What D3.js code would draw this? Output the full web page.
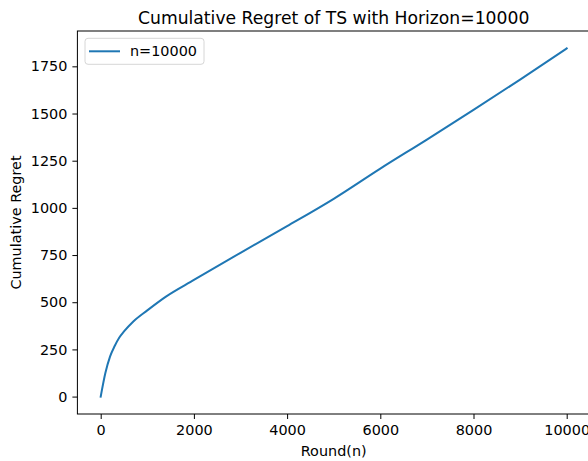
<!DOCTYPE html>
<html>
<head>
<meta charset="utf-8">
<script src="https://cdn.jsdelivr.net/npm/d3@7"></script>
<style>
  body { margin: 0; background: #fff; }
  svg { display: block; font-family: "DejaVu Sans", sans-serif; }
</style>
</head>
<body>
<div id="chart"></div>
<script>
// values
const rounds = [0, 100, 200, 300, 400, 500, 700, 1000, 1400, 2000, 3000, 4000, 5000, 6000, 7000, 8000, 9000, 10000];
const regret = [0, 125, 212, 268, 313, 345, 398, 457, 530, 618, 762, 903, 1048, 1208, 1362, 1519, 1680, 1845];
const xTicks = [0, 2000, 4000, 6000, 8000, 10000];
const yTicks = [0, 250, 500, 750, 1000, 1250, 1500, 1750];
const seriesName = "n=10000";

const width = 588;
const height = 461;
const margin = { left: 77.4, top: 31, right: -2, bottom: 47 };
const plotW = width - margin.left - margin.right;
const plotH = height - margin.top - margin.bottom;

const svg = d3.select("#chart")
    .append("svg")
    .attr("width", width)
    .attr("height", height);

// matplotlib style 5% padding
const xMin = d3.min(rounds), xMax = d3.max(rounds);
const yMin = d3.min(regret), yMax = d3.max(regret);
const xPad = (xMax - xMin) * 0.05;
const yPad = (yMax - yMin) * 0.05;

const x = d3.scaleLinear()
    .domain([xMin - xPad, xMax + xPad])
    .range([0, plotW]);
const y = d3.scaleLinear()
    .domain([yMin - yPad, yMax + yPad])
    .range([plotH, 0]);

const g = svg.append("g")
    .attr("transform", `translate(${margin.left},${margin.top})`);

// Axes
const xAxis = g.append("g")
    .attr("transform", `translate(0,${plotH})`)
    .call(d3.axisBottom(x).tickValues(xTicks).tickSize(5).tickPadding(6).tickFormat(d3.format("d")));
const yAxis = g.append("g")
    .call(d3.axisLeft(y).tickValues(yTicks).tickSize(5).tickPadding(5).tickFormat(d3.format("d")));

[xAxis, yAxis].forEach(a => {
    a.select(".domain").remove();
    a.selectAll("line").attr("stroke", "#000").attr("stroke-width", 1);
    a.selectAll("text")
        .attr("fill", "#000")
        .style("font-size", "14.4px")
        .style("font-family", "DejaVu Sans, sans-serif");
});

// the line
const line = d3.line()
    .x((d, i) => x(rounds[i]))
    .y(d => y(d))
    .curve(d3.curveMonotoneX);

g.append("path")
    .datum(regret)
    .attr("fill", "none")
    .attr("stroke", "#1f77b4")
    .attr("stroke-width", 2)
    .attr("stroke-linecap", "square")
    .attr("d", line);

// spines
g.append("rect")
    .attr("x", 0).attr("y", 0)
    .attr("width", plotW).attr("height", plotH)
    .attr("fill", "none")
    .attr("stroke", "#000")
    .attr("stroke-width", 1);

// Title & labels
svg.append("text")
    .attr("x", margin.left + plotW / 2)
    .attr("y", 23.5)
    .attr("text-anchor", "middle")
    .style("font-size", "17.2px")
    .text("Cumulative Regret of TS with Horizon=10000");

svg.append("text")
    .attr("x", margin.left + plotW / 2)
    .attr("y", 456)
    .attr("text-anchor", "middle")
    .style("font-size", "14.4px")
    .text("Round(n)");

svg.append("text")
    .attr("transform", `translate(21,${margin.top + plotH / 2}) rotate(-90)`)
    .attr("text-anchor", "middle")
    .style("font-size", "14.4px")
    .text("Cumulative Regret");

// Legend
const legend = g.append("g").attr("transform", "translate(7.6,7.3)");
legend.append("rect")
    .attr("width", 119).attr("height", 26)
    .attr("rx", 3)
    .attr("fill", "#fff")
    .attr("stroke", "#d6d6d6")
    .attr("stroke-width", 1);
legend.append("line")
    .attr("x1", 4).attr("x2", 35)
    .attr("y1", 13).attr("y2", 13)
    .attr("stroke", "#1f77b4")
    .attr("stroke-width", 2);
legend.append("text")
    .attr("x", 45).attr("y", 18)
    .style("font-size", "14.4px")
    .text(seriesName);
</script>
</body>
</html>
